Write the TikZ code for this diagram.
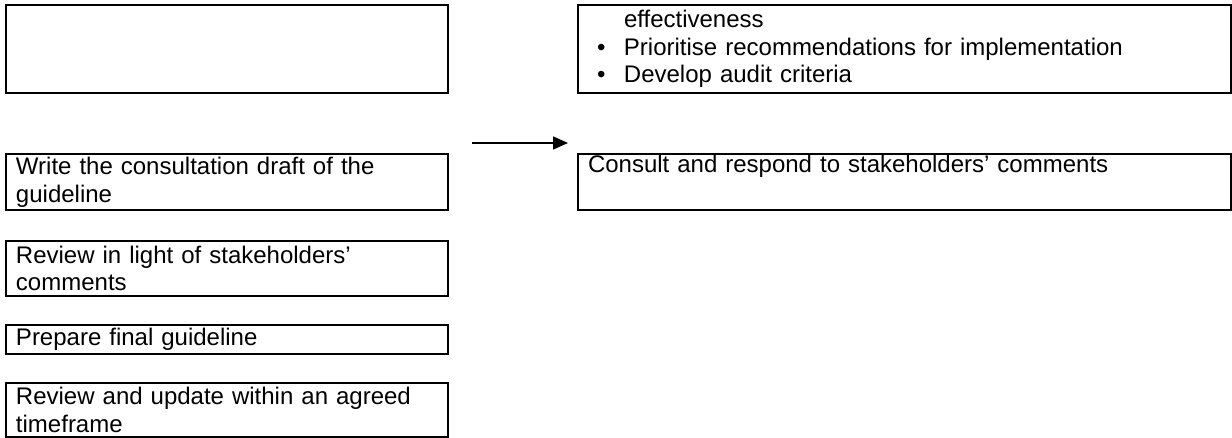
\documentclass[tikz,border=0pt]{standalone}
\usepackage{fontspec}
\setmainfont{Liberation Sans}
\usetikzlibrary{arrows.meta}

\begin{document}
\begin{tikzpicture}[x=1pt, y=-1pt,
	stepbox/.style = {draw, line width=2pt, anchor=north west, inner xsep=10pt, inner ysep=0pt, align=left, font=\fontsize{24}{27.6}\selectfont},
	leftbox/.style = {stepbox, text width=422pt},
	rightbox/.style = {stepbox, text width=633pt}]

		\useasboundingbox (0,0) rectangle (1232,438);

		\node[leftbox, minimum height=88pt] (l1) at (5,4) {};
		\node[leftbox, minimum height=56pt] (l2) at (5,153) {Write the consultation draft of the\\guideline};
		\node[leftbox, minimum height=55pt] (l3) at (5,240) {Review in light of stakeholders'\\comments};
		\node[leftbox, minimum height=29pt] (l4) at (5,324) {Prepare final guideline};
		\node[leftbox, minimum height=54pt] (l5) at (5,382) {Review and update within an agreed\\timeframe};

		\node[rightbox, minimum height=88pt] (r1) at (577,4) {\hspace*{36pt}effectiveness\\
			\makebox[36pt][l]{\hspace*{9pt}\textbullet}Prioritise recommendations for implementation\\
			\makebox[36pt][l]{\hspace*{9pt}\textbullet}Develop audit criteria};
		\node[rightbox, minimum height=56pt] (r2) at (577,153) {Consult and respond to stakeholders' comments\\\strut};

		\coordinate (a1) at (472,143);
		\coordinate (a2) at (568,143);
		\draw[line width=1.6pt, -{Triangle[length=15pt, width=13pt]}] (a1) -- (a2);
	\end{tikzpicture}
\end{document}
